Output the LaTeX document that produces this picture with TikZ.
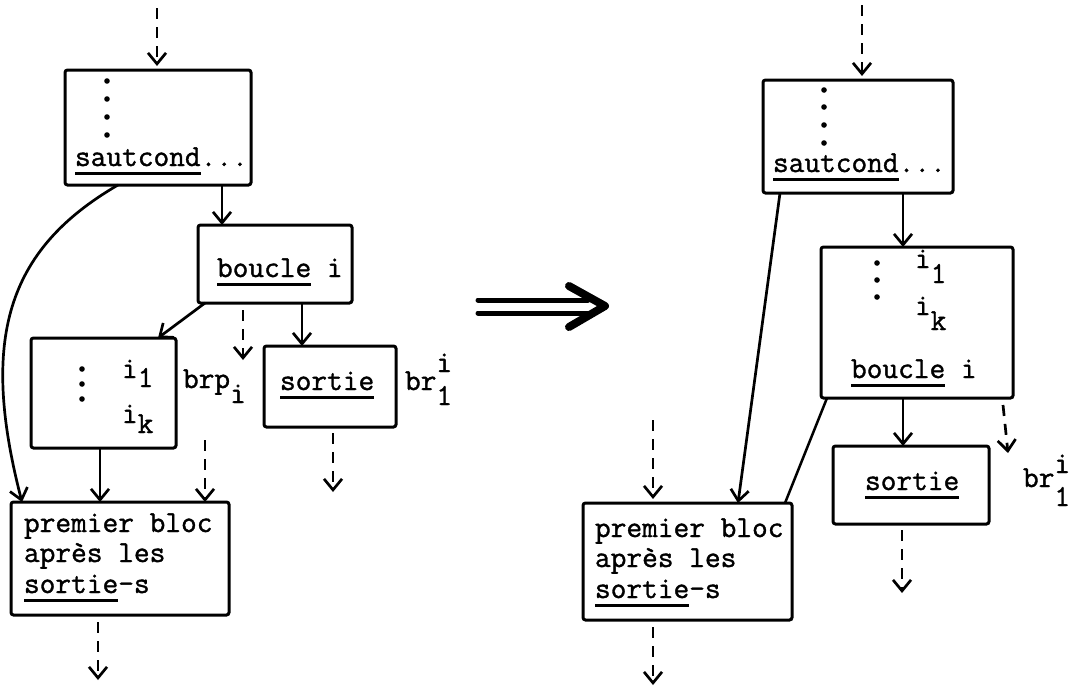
\documentclass[tikz,border=0pt]{standalone}
\usepackage{fontspec}
\usetikzlibrary{arrows.meta}
\newfontfamily\tw{Latin Modern Mono}[FakeBold=1.2]
\newsavebox\ulbox
\newcommand\ul[1]{\sbox\ulbox{#1}\rlap{\rule[-8.5pt]{\wd\ulbox}{2.4pt}}\usebox\ulbox}
\tikzset{
  box/.style={draw, line width=3pt, inner sep=0pt, outer sep=0pt, rounded corners=2.5pt},
  txt/.style={anchor=base west, inner sep=0pt, outer sep=0pt, font=\tw\fontsize{30.5}{30.5}\selectfont},
  con/.style={line width=2.7pt, -{Straight Barb[length=11pt,width=18pt]}},
  plain/.style={line width=2.5pt},
  dsh/.style={line width=2.7pt, dash pattern=on 11pt off 8pt, -{Straight Barb[length=11pt,width=18pt]}},
  dotc/.style={fill=black}
}
\begin{document}
\begin{tikzpicture}[x=1pt,y=-1pt]
\fill[white] (0,0) rectangle (1075,689);
\useasboundingbox (0,0) rectangle (1075,689);

% ---------------- left diagram ----------------
\node[box, minimum width=186pt, minimum height=115pt] (L1) at (158,127.5) {};
\node[box, minimum width=154pt, minimum height=78pt] (L2) at (275,264) {};
\node[box, minimum width=145pt, minimum height=110pt] (L3) at (103.5,393) {};
\node[box, minimum width=132pt, minimum height=81pt] (L4) at (330,386.5) {};
\node[box, minimum width=218pt, minimum height=113pt] (L5) at (120,558.5) {};

\foreach \yy in {81,99,117,135} \fill[dotc] (107,\yy) circle (2.8);
\node[txt] (t1) at (75,166) {\ul{sautcond}...};
\node[txt] (t2) at (217,277) {\ul{boucle} i};
\foreach \yy in {369,384,399} \fill[dotc] (82,\yy) circle (2.8);
\node[txt] (t3) at (122,378) {i\raisebox{-9pt}{1}};
\node[txt] (t4) at (122,423) {i\raisebox{-10pt}{k}};
\node[txt] (t5) at (183,388) {brp\raisebox{-15pt}{i}};
\node[txt] (t6) at (280,390) {\ul{sortie}};
\node[txt] (t7) at (405,390) {br\rlap{\raisebox{18pt}{i}}\raisebox{-15pt}{1}};
\node[txt] (t8) at (24,532) {premier bloc};
\node[txt] (t9) at (24,562) {après les};
\node[txt] (t10) at (24,593) {\ul{sortie}-s};

\coordinate (la) at (157,8);
\coordinate (lb) at (243,360);
\coordinate (lc) at (333,492);
\coordinate (ld) at (205,440);
\coordinate (le) at (98,680);

\draw[dsh] (la) -- ([xshift=-1pt,yshift=4pt]L1.north);
\draw[con] ([xshift=64pt]L1.south) -- ([xshift=-53pt]L2.north);
\draw[con] ([xshift=-40pt]L1.south) .. controls (6,250) and (-20,340) .. ([xshift=-98pt]L5.north);
\draw[con] ([xshift=-70pt]L2.south) -- ([xshift=54.5pt]L3.north);
\draw[dsh] ([xshift=-32pt,yshift=-7pt]L2.south) -- (lb);
\draw[con] ([xshift=27pt]L2.south) -- ([xshift=-28pt]L4.north);
\draw[dsh] ([xshift=3pt,yshift=-6pt]L4.south) -- (lc);
\draw[con] ([xshift=-3.5pt]L3.south) -- ([xshift=-20pt]L5.north);
\draw[dsh] (ld) -- ([xshift=85pt]L5.north);
\draw[dsh] ([xshift=-22pt,yshift=-7pt]L5.south) -- (le);

% ---------------- transformation arrow ----------------
\draw[line width=5pt, line cap=round] (478,300) -- (588,300);
\draw[line width=5pt, line cap=round] (478,313) -- (592,313);
\draw[line width=8pt, line cap=round, line join=round] (569,286) -- (605,306) -- (569,327);

% ---------------- right diagram ----------------
\node[box, minimum width=190pt, minimum height=113pt] (R1) at (858,136.5) {};
\node[box, minimum width=192pt, minimum height=151pt] (R2) at (917,322.5) {};
\node[box, minimum width=156pt, minimum height=78pt] (R3) at (911,485) {};
\node[box, minimum width=209pt, minimum height=117pt] (R4) at (687.5,561.5) {};

\foreach \yy in {90,107,125,143} \fill[dotc] (824,\yy) circle (2.8);
\node[txt] (u1) at (773,172) {\ul{sautcond}...};
\foreach \yy in {263,280,297} \fill[dotc] (877,\yy) circle (2.8);
\node[txt] (u2) at (915,268) {i\raisebox{-15pt}{1}};
\node[txt] (u3) at (915,315) {i\raisebox{-15pt}{k}};
\node[txt] (u4) at (851,378) {\ul{boucle} i};
\node[txt] (u5) at (865,490) {\ul{sortie}};
\node[txt] (u6) at (1023,487) {br\rlap{\raisebox{14pt}{i}}\raisebox{-19pt}{1}};
\node[txt] (u7) at (595,537) {premier bloc};
\node[txt] (u8) at (595,567) {après les};
\node[txt] (u9) at (595,598) {\ul{sortie}-s};

\coordinate (ra) at (862,5);
\coordinate (rb) at (1008,453);
\coordinate (rc) at (902,593);
\coordinate (rd) at (653,420);
\coordinate (re) at (653,685);

\draw[dsh] (ra) -- ([xshift=4pt,yshift=4pt]R1.north);
\draw[con] ([xshift=45pt]R1.south) -- ([xshift=-14pt]R2.north);
\draw[con] ([xshift=-78pt]R1.south) -- ([xshift=50.5pt]R4.north);
\draw[plain] ([xshift=-90pt]R2.south) -- ([xshift=-7pt]R4.north east);
\draw[con] ([xshift=-14pt]R2.south) -- ([xshift=-8pt]R3.north);
\draw[dsh] ([xshift=86pt,yshift=-7pt]R2.south) -- (rb);
\draw[dsh] ([xshift=-9pt,yshift=-6pt]R3.south) -- (rc);
\draw[dsh] (rd) -- ([xshift=-34.5pt,yshift=4pt]R4.north);
\draw[dsh] ([xshift=-34.5pt,yshift=-7pt]R4.south) -- (re);
\end{tikzpicture}
\end{document}
